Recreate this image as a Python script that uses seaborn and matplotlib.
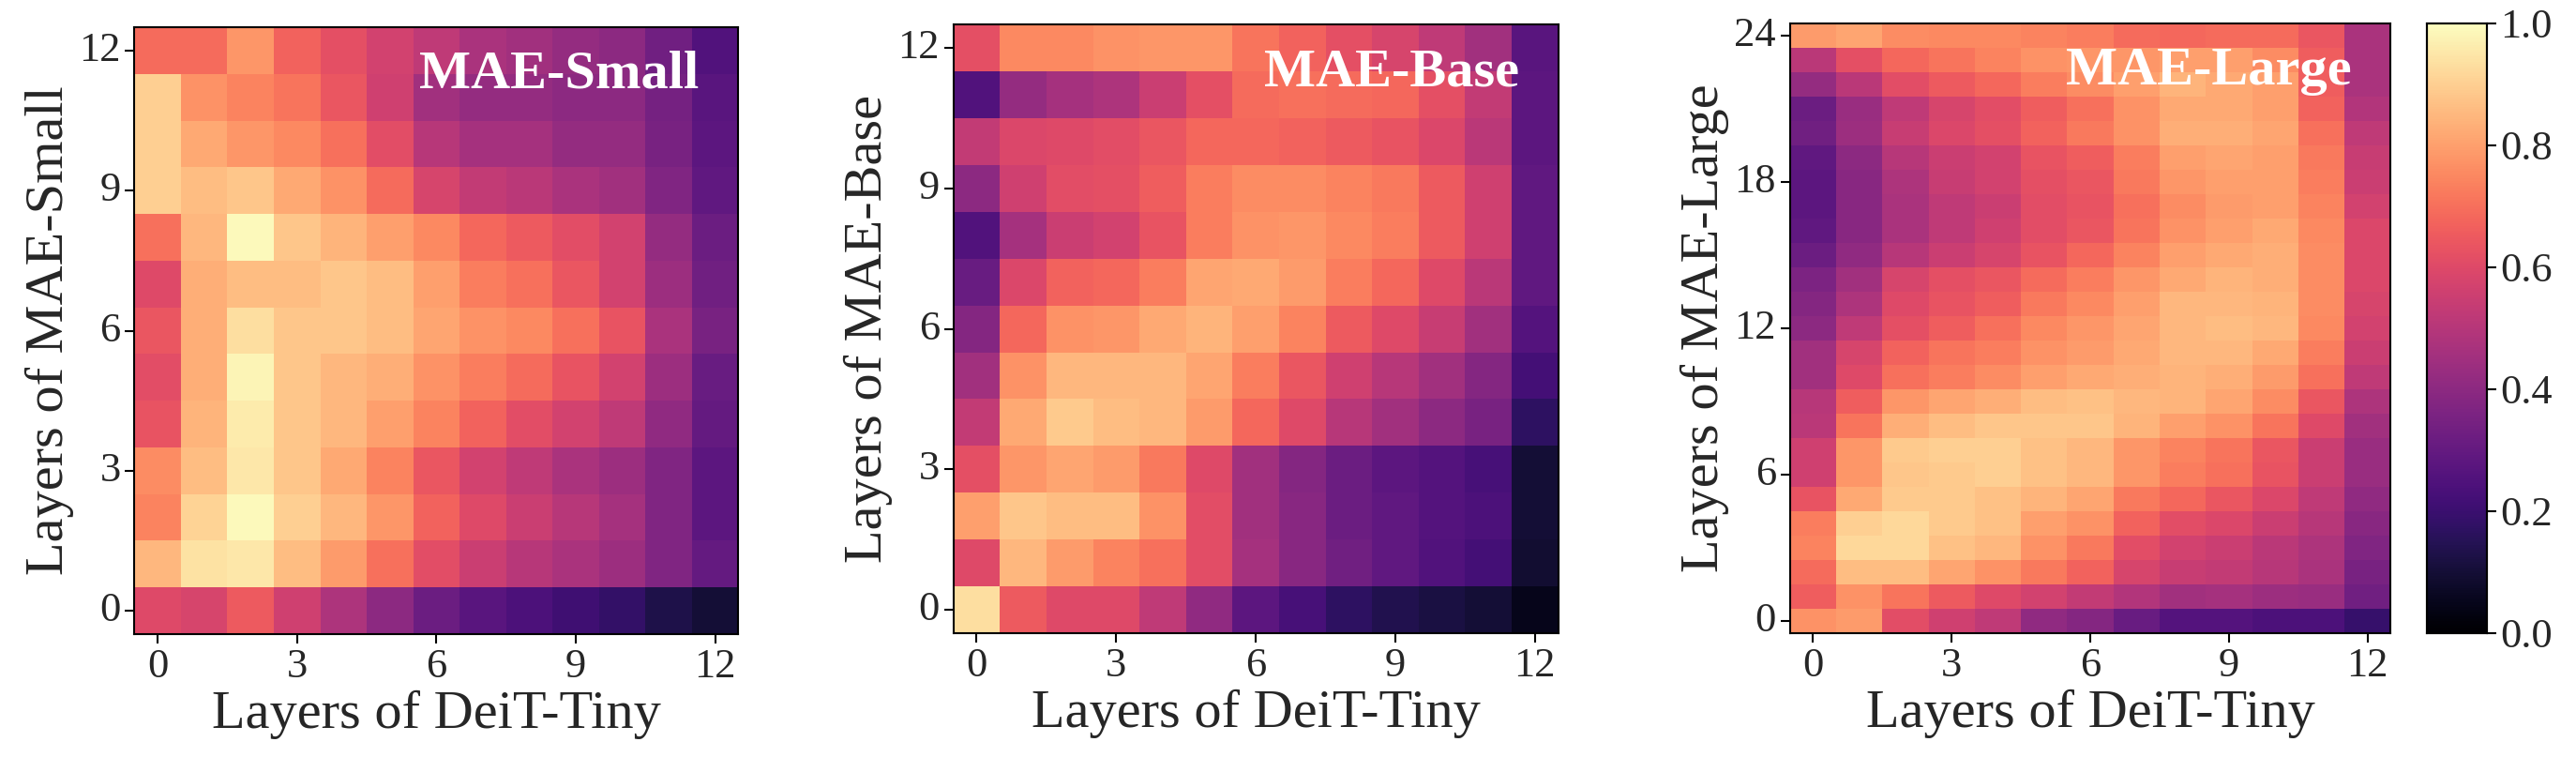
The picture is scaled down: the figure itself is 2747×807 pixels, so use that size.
import numpy as np
import seaborn as sns
import matplotlib.pyplot as plt

sns.set_style("white")
plt.rcParams['font.family'] = ['Liberation Serif', 'DejaVu Serif']

# similarity values, rows listed from the top layer down to layer 0
small_rows = [
    [0.69, 0.69, 0.78, 0.67, 0.62, 0.57, 0.52, 0.47, 0.45, 0.42, 0.40, 0.33, 0.25],
    [0.90, 0.77, 0.74, 0.71, 0.64, 0.56, 0.45, 0.42, 0.42, 0.40, 0.40, 0.34, 0.27],
    [0.90, 0.82, 0.78, 0.75, 0.70, 0.61, 0.50, 0.46, 0.46, 0.42, 0.42, 0.35, 0.28],
    [0.90, 0.86, 0.88, 0.82, 0.77, 0.69, 0.58, 0.53, 0.51, 0.47, 0.45, 0.37, 0.29],
    [0.70, 0.85, 0.99, 0.88, 0.84, 0.80, 0.75, 0.68, 0.65, 0.61, 0.57, 0.42, 0.32],
    [0.60, 0.83, 0.86, 0.86, 0.88, 0.86, 0.80, 0.73, 0.70, 0.64, 0.57, 0.44, 0.33],
    [0.64, 0.83, 0.93, 0.88, 0.88, 0.86, 0.81, 0.77, 0.75, 0.70, 0.63, 0.47, 0.35],
    [0.61, 0.83, 0.98, 0.88, 0.85, 0.83, 0.77, 0.73, 0.69, 0.63, 0.57, 0.44, 0.31],
    [0.63, 0.84, 0.96, 0.88, 0.85, 0.80, 0.74, 0.67, 0.61, 0.57, 0.52, 0.41, 0.30],
    [0.76, 0.86, 0.95, 0.88, 0.82, 0.74, 0.64, 0.57, 0.52, 0.47, 0.44, 0.37, 0.28],
    [0.74, 0.91, 0.99, 0.90, 0.85, 0.78, 0.67, 0.60, 0.55, 0.50, 0.46, 0.37, 0.28],
    [0.85, 0.94, 0.95, 0.86, 0.79, 0.70, 0.61, 0.55, 0.50, 0.47, 0.44, 0.37, 0.30],
    [0.60, 0.58, 0.65, 0.56, 0.48, 0.40, 0.32, 0.27, 0.24, 0.21, 0.18, 0.13, 0.10],
]

base_rows = [
    [0.62, 0.75, 0.75, 0.77, 0.78, 0.78, 0.71, 0.67, 0.62, 0.58, 0.52, 0.45, 0.27],
    [0.25, 0.42, 0.46, 0.48, 0.55, 0.62, 0.69, 0.70, 0.69, 0.68, 0.62, 0.53, 0.28],
    [0.53, 0.59, 0.60, 0.61, 0.64, 0.68, 0.68, 0.67, 0.65, 0.63, 0.59, 0.51, 0.28],
    [0.40, 0.56, 0.61, 0.62, 0.66, 0.73, 0.76, 0.76, 0.74, 0.72, 0.65, 0.56, 0.29],
    [0.25, 0.46, 0.55, 0.57, 0.63, 0.73, 0.77, 0.78, 0.75, 0.73, 0.65, 0.56, 0.29],
    [0.31, 0.59, 0.67, 0.68, 0.73, 0.81, 0.82, 0.79, 0.73, 0.68, 0.60, 0.51, 0.29],
    [0.38, 0.68, 0.77, 0.78, 0.82, 0.84, 0.80, 0.74, 0.65, 0.60, 0.54, 0.45, 0.26],
    [0.45, 0.77, 0.85, 0.85, 0.85, 0.81, 0.73, 0.64, 0.56, 0.50, 0.45, 0.38, 0.22],
    [0.53, 0.82, 0.89, 0.86, 0.85, 0.79, 0.68, 0.60, 0.50, 0.45, 0.40, 0.35, 0.17],
    [0.62, 0.78, 0.81, 0.79, 0.72, 0.60, 0.45, 0.38, 0.32, 0.28, 0.26, 0.23, 0.10],
    [0.80, 0.88, 0.86, 0.86, 0.77, 0.61, 0.45, 0.39, 0.32, 0.29, 0.26, 0.24, 0.10],
    [0.60, 0.85, 0.79, 0.74, 0.70, 0.61, 0.46, 0.39, 0.33, 0.29, 0.25, 0.22, 0.09],
    [0.93, 0.65, 0.60, 0.60, 0.52, 0.41, 0.28, 0.23, 0.17, 0.14, 0.12, 0.10, 0.05],
]

large_rows = [
    [0.79, 0.81, 0.76, 0.75, 0.75, 0.74, 0.73, 0.69, 0.68, 0.69, 0.69, 0.64, 0.47],
    [0.51, 0.62, 0.68, 0.71, 0.74, 0.77, 0.78, 0.78, 0.80, 0.80, 0.76, 0.66, 0.47],
    [0.42, 0.51, 0.61, 0.65, 0.68, 0.73, 0.76, 0.80, 0.84, 0.82, 0.80, 0.66, 0.47],
    [0.32, 0.43, 0.52, 0.58, 0.61, 0.66, 0.70, 0.77, 0.82, 0.82, 0.80, 0.67, 0.49],
    [0.33, 0.44, 0.54, 0.59, 0.62, 0.67, 0.72, 0.77, 0.83, 0.83, 0.81, 0.70, 0.52],
    [0.29, 0.40, 0.50, 0.55, 0.57, 0.63, 0.66, 0.73, 0.80, 0.81, 0.80, 0.72, 0.54],
    [0.28, 0.39, 0.48, 0.54, 0.57, 0.62, 0.64, 0.72, 0.78, 0.80, 0.80, 0.73, 0.55],
    [0.28, 0.39, 0.47, 0.52, 0.55, 0.61, 0.63, 0.70, 0.76, 0.79, 0.80, 0.74, 0.57],
    [0.29, 0.39, 0.47, 0.52, 0.56, 0.61, 0.64, 0.71, 0.77, 0.80, 0.82, 0.75, 0.59],
    [0.32, 0.41, 0.50, 0.55, 0.58, 0.63, 0.68, 0.74, 0.80, 0.82, 0.83, 0.76, 0.59],
    [0.36, 0.45, 0.58, 0.62, 0.64, 0.69, 0.73, 0.78, 0.82, 0.84, 0.83, 0.76, 0.59],
    [0.38, 0.48, 0.60, 0.63, 0.66, 0.72, 0.75, 0.80, 0.85, 0.85, 0.84, 0.76, 0.58],
    [0.40, 0.52, 0.62, 0.66, 0.70, 0.75, 0.78, 0.81, 0.85, 0.86, 0.85, 0.75, 0.57],
    [0.45, 0.58, 0.67, 0.71, 0.73, 0.77, 0.79, 0.82, 0.85, 0.85, 0.82, 0.73, 0.55],
    [0.45, 0.60, 0.70, 0.73, 0.76, 0.80, 0.82, 0.83, 0.84, 0.83, 0.79, 0.70, 0.52],
    [0.50, 0.66, 0.78, 0.81, 0.83, 0.86, 0.87, 0.85, 0.84, 0.81, 0.76, 0.64, 0.48],
    [0.51, 0.71, 0.83, 0.86, 0.88, 0.88, 0.88, 0.84, 0.80, 0.77, 0.71, 0.60, 0.45],
    [0.56, 0.78, 0.89, 0.90, 0.90, 0.87, 0.85, 0.78, 0.74, 0.71, 0.64, 0.55, 0.43],
    [0.56, 0.78, 0.88, 0.89, 0.90, 0.87, 0.85, 0.78, 0.73, 0.70, 0.63, 0.55, 0.43],
    [0.63, 0.82, 0.89, 0.89, 0.87, 0.84, 0.81, 0.72, 0.68, 0.64, 0.59, 0.52, 0.41],
    [0.73, 0.90, 0.92, 0.89, 0.87, 0.80, 0.77, 0.67, 0.61, 0.59, 0.55, 0.50, 0.39],
    [0.74, 0.92, 0.92, 0.87, 0.85, 0.77, 0.72, 0.61, 0.57, 0.55, 0.51, 0.48, 0.37],
    [0.69, 0.86, 0.86, 0.81, 0.77, 0.72, 0.67, 0.58, 0.54, 0.53, 0.50, 0.47, 0.35],
    [0.66, 0.77, 0.71, 0.65, 0.60, 0.57, 0.53, 0.49, 0.45, 0.46, 0.44, 0.43, 0.33],
    [0.77, 0.79, 0.61, 0.56, 0.52, 0.41, 0.38, 0.31, 0.26, 0.26, 0.24, 0.24, 0.19],
]

x_ticks = [0, 3, 6, 9, 12]
small_ticks = [0, 3, 6, 9, 12]
base_ticks = [0, 3, 6, 9, 12]
large_ticks = [0, 6, 12, 18, 24]
cbar_ticks = [0.0, 0.2, 0.4, 0.6, 0.8, 1.0]

panels = [
    (small_rows, small_ticks, 'MAE-Small', [0.0522, 0.1623, 0.2344, 0.8017]),
    (base_rows, base_ticks, 'MAE-Base', [0.3701, 0.1636, 0.2348, 0.8040]),
    (large_rows, large_ticks, 'MAE-Large', [0.6948, 0.1636, 0.2333, 0.8055]),
]

fig = plt.figure(figsize=(27.47, 8.07), dpi=100)
cax = fig.add_axes([0.9420, 0.1636, 0.0233, 0.8055])

for i, (rows, yt, name, pos) in enumerate(panels):
    ax = fig.add_axes(pos)
    data = np.array(rows)
    n = data.shape[0]
    last = i == len(panels) - 1
    sns.heatmap(data, cmap='magma', vmin=0, vmax=1, ax=ax,
                cbar=last, cbar_ax=cax if last else None)
    ax.set_xticks([t + 0.5 for t in x_ticks])
    ax.set_xticklabels([str(t) for t in x_ticks], rotation=0, fontsize=32)
    ax.set_yticks([n - 1 - t + 0.5 for t in yt])
    ax.set_yticklabels([str(t) for t in yt], rotation=0, fontsize=32)
    ax.tick_params(axis='both', length=7, width=1.5, direction='out',
                   bottom=True, left=True, color='black')
    for sp in ax.spines.values():
        sp.set_visible(True)
        sp.set_color('black')
        sp.set_linewidth(1.5)
    ax.set_xlabel('Layers of DeiT-Tiny', fontsize=42)
    ax.set_ylabel('Layers of ' + name, fontsize=42)
    ax.text(0.935, 0.90, name, transform=ax.transAxes, ha='right',
            va='baseline', color='white', fontweight='bold', fontsize=42)

cax.set_yticks(cbar_ticks)
cax.set_yticklabels(['%.1f' % t for t in cbar_ticks])
cax.tick_params(labelsize=32, length=7, width=1.5, right=True, color='black')
for sp in cax.spines.values():
    sp.set_visible(True)
    sp.set_color('black')
    sp.set_linewidth(1.5)

fig.savefig('out.png', dpi=100)
